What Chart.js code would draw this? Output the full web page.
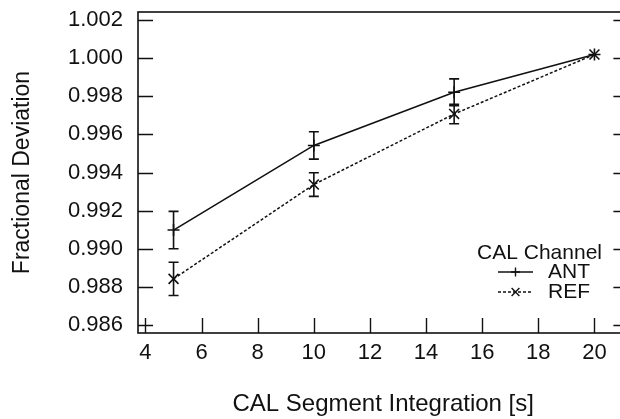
<!DOCTYPE html>
<html>
<head>
<meta charset="utf-8">
<script src="https://cdn.jsdelivr.net/npm/chart.js@4/dist/chart.umd.min.js"></script>
<style>
  html, body { margin: 0; padding: 0; background: #fff; overflow: hidden; }
  #wrap { position: relative; width: 637px; height: 419px; }
</style>
</head>
<body>
<div id="wrap"><canvas id="c"></canvas></div>
<script>
// Integration length of each CAL segment, seconds
const integration = [5, 10, 15, 20];

// Fractional deviation per channel, with one-sigma error bars
const antValues = [0.99098, 0.99542, 0.99821, 1.00019];
const antErrors = [0.00098, 0.00072, 0.00070, 0];
const refValues = [0.98842, 0.99337, 0.99707, 1.00019];
const refErrors = [0.00087, 0.00062, 0.00051, 0];

const seriesNames = ['ANT', 'REF'];
const legendTitle = 'CAL Channel';

const xTicks = [4, 6, 8, 10, 12, 14, 16, 18, 20];
const yTicks = [0.986, 0.988, 0.990, 0.992, 0.994, 0.996, 0.998, 1.000, 1.002];

const FONT = "'Liberation Sans', Arial, Helvetica, sans-serif";
const INK = '#111';

function points(xs, ys) {
  return xs.map((x, i) => ({ x: x, y: ys[i] }));
}

// Frame with inward tick marks on left, bottom and right
const framePlugin = {
  id: 'frame',
  afterDraw(chart) {
    const { ctx, chartArea: a, scales: { x, y } } = chart;
    ctx.save();
    ctx.strokeStyle = INK;
    ctx.lineWidth = 1.6;
    ctx.strokeRect(a.left, a.top, a.right - a.left, a.bottom - a.top);
    ctx.lineWidth = 1.4;
    ctx.beginPath();
    yTicks.forEach(v => {
      const py = Math.round(y.getPixelForValue(v)) + 0.5;
      ctx.moveTo(a.left, py); ctx.lineTo(a.left + 15, py);
      ctx.moveTo(a.right, py); ctx.lineTo(a.right - 15, py);
    });
    xTicks.forEach(v => {
      const px = Math.round(x.getPixelForValue(v)) + 0.5;
      ctx.moveTo(px, a.bottom); ctx.lineTo(px, a.bottom - 15);
    });
    ctx.stroke();
    ctx.restore();
  }
};

// Vertical error bars with short caps
const errorBarPlugin = {
  id: 'errorBars',
  afterDatasetsDraw(chart) {
    const { ctx, scales: { x, y } } = chart;
    ctx.save();
    ctx.strokeStyle = INK;
    ctx.lineWidth = 1.6;
    chart.data.datasets.forEach(ds => {
      const errs = ds.errors || [];
      ds.data.forEach((p, i) => {
        const e = errs[i];
        if (!e) return;
        const px = x.getPixelForValue(p.x);
        const top = y.getPixelForValue(p.y + e);
        const bot = y.getPixelForValue(p.y - e);
        ctx.beginPath();
        ctx.moveTo(px, top); ctx.lineTo(px, bot);
        ctx.moveTo(px - 5, top); ctx.lineTo(px + 5, top);
        ctx.moveTo(px - 5, bot); ctx.lineTo(px + 5, bot);
        ctx.stroke();
      });
    });
    ctx.restore();
  }
};

// Legend box inside the plot, lower right
const legendPlugin = {
  id: 'cornerLegend',
  afterDraw(chart) {
    const { ctx } = chart;
    ctx.save();
    ctx.fillStyle = INK;
    ctx.font = '21px ' + FONT;
    ctx.textBaseline = 'middle';
    ctx.textAlign = 'right';
    ctx.fillText(legendTitle, 602, 253);
    ctx.textAlign = 'left';
    chart.data.datasets.forEach((ds, i) => {
      const cy = 272 + i * 20;
      ctx.strokeStyle = INK;
      ctx.lineWidth = 1.4;
      ctx.setLineDash(ds.borderDash || []);
      ctx.beginPath();
      ctx.moveTo(498, cy); ctx.lineTo(533, cy);
      ctx.stroke();
      ctx.setLineDash([]);
      Chart.helpers.drawPoint(ctx, {
        pointStyle: ds.pointStyle,
        radius: ds.pointStyle === 'cross' ? 4.5 : 5.5,
        borderWidth: 1.5
      }, 515.5, cy);
      ctx.fillText(ds.label, 548, cy);
    });
    ctx.restore();
  }
};

new Chart(document.getElementById('c'), {
  type: 'line',
  data: {
    datasets: [
      {
        label: seriesNames[0],
        data: points(integration, antValues),
        errors: antErrors,
        borderColor: INK,
        backgroundColor: INK,
        borderWidth: 1.6,
        pointStyle: 'cross',
        pointRadius: 6,
        pointBorderWidth: 1.6,
        pointBorderColor: INK,
        tension: 0,
        fill: false
      },
      {
        label: seriesNames[1],
        data: points(integration, refValues),
        errors: refErrors,
        borderColor: INK,
        backgroundColor: INK,
        borderWidth: 1.5,
        borderDash: [3, 2],
        pointStyle: 'crossRot',
        pointRadius: 7,
        pointBorderWidth: 1.6,
        pointBorderColor: INK,
        tension: 0,
        fill: false
      }
    ]
  },
  options: {
    responsive: true,
    maintainAspectRatio: false,
    animation: false,
    events: [],
    layout: { padding: { left: 0, top: 12, right: 3, bottom: 0 } },
    plugins: { legend: { display: false }, tooltip: { enabled: false } },
    scales: {
      x: {
        type: 'linear',
        min: 3.733,
        max: 21.21,
        grid: { display: false, drawTicks: false },
        border: { display: false },
        afterFit(s) { s.height = 86; s.paddingLeft = 0; s.paddingRight = 0; },
        ticks: {
          stepSize: 2,
          includeBounds: false,
          autoSkip: false,
          maxRotation: 0,
          padding: 7,
          color: INK,
          font: { family: FONT, size: 22 },
          callback: v => String(v)
        },
        title: {
          display: true,
          text: 'CAL Segment Integration [s]',
          color: INK,
          font: { family: FONT, size: 24, lineHeight: 1.2 },
          padding: { top: 0, bottom: 0 }
        }
      },
      y: {
        type: 'linear',
        min: 0.98558,
        max: 1.00242,
        grid: { display: false, drawTicks: false },
        border: { display: false },
        afterFit(s) { s.width = 138; s.paddingTop = 0; s.paddingBottom = 0; },
        afterBuildTicks(s) { s.ticks = yTicks.map(v => ({ value: v })); },
        ticks: {
          padding: 15,
          color: INK,
          font: { family: FONT, size: 22 },
          callback: v => Number(v).toFixed(3)
        },
        title: {
          display: true,
          text: 'Fractional Deviation',
          color: INK,
          font: { family: FONT, size: 23, lineHeight: 1.2 },
          padding: { top: 9, bottom: 0 }
        }
      }
    }
  },
  plugins: [framePlugin, errorBarPlugin, legendPlugin]
});
</script>
</body>
</html>
